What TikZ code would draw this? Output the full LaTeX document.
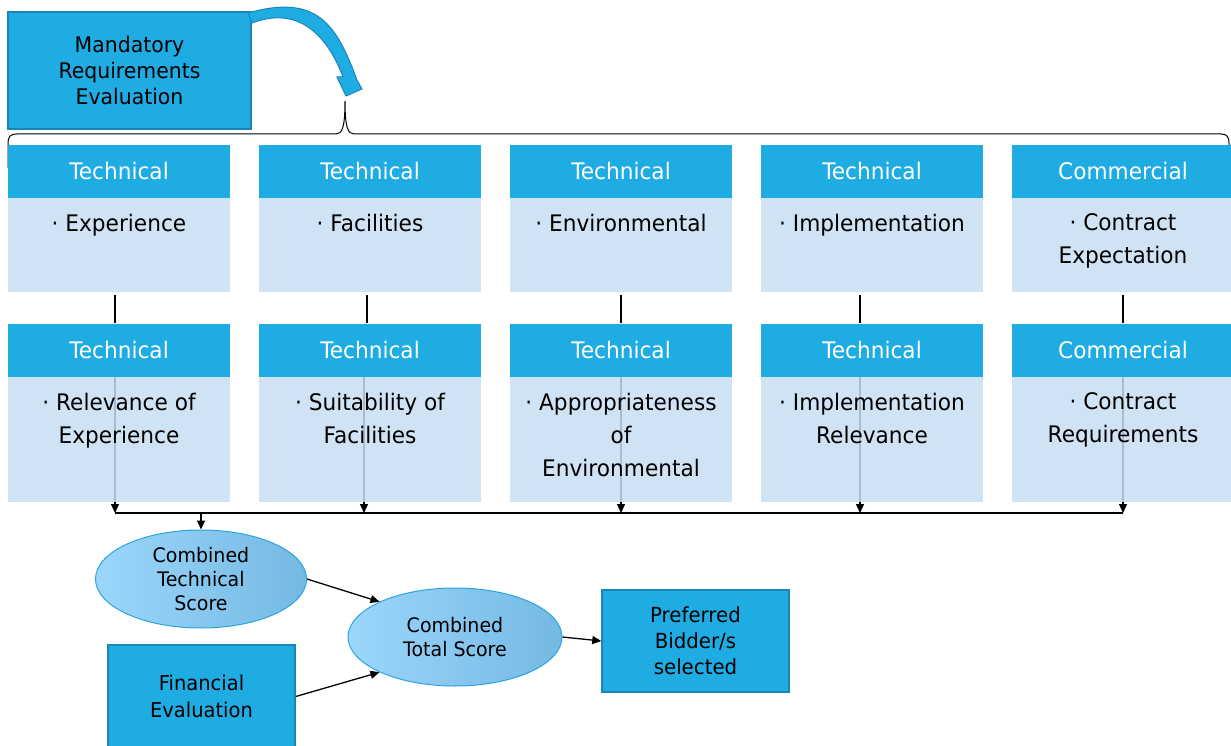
\documentclass[tikz,border=0pt]{standalone}
\usepackage{fontspec}
\setmainfont[FakeStretch=0.95]{DejaVu Sans}
\usetikzlibrary{arrows.meta,shapes.geometric,calc}
\definecolor{cyanbox}{HTML}{1FACE3}
\definecolor{cyanedge}{HTML}{1A86B6}
\definecolor{bodyblue}{HTML}{C8DFF3}
\definecolor{ellL}{HTML}{9CD6FB}
\definecolor{ellR}{HTML}{74B9E3}
\definecolor{elledge}{HTML}{2AA6DE}
\pgfdeclarelayer{back}
\pgfdeclarelayer{bg}
\pgfsetlayers{back,bg,main}
\begin{document}
\begin{tikzpicture}[x=1pt,y=-1pt,
  hdr/.style={rectangle, fill=cyanbox, minimum width=222pt, minimum height=53pt, inner sep=0, text=white, font=\fontsize{22.8}{27}\selectfont},
  bodybox/.style={rectangle, fill=bodyblue, fill opacity=0.85, minimum width=222pt, inner sep=0},
  bodytxt/.style={anchor=north, inner sep=0, align=center, text=black, font=\fontsize{22.8}{33}\selectfont},
  link/.style={draw=black, line width=1.3pt},
  arr/.style={link, -{Triangle[length=9pt,width=8pt]}},
  bluebox/.style={rectangle, fill=cyanbox, draw=cyanedge, line width=1.5pt, inner sep=0, align=center, text=black},
  score/.style={ellipse, left color=ellL, right color=ellR, draw=elledge, line width=1pt, minimum height=98pt, inner sep=0, align=center, font=\fontsize{20}{24}\selectfont},
]
\useasboundingbox (0,0) rectangle (1231,746);
\begin{pgfonlayer}{back}
\fill[white] (0,0) rectangle (1231,746);
\end{pgfonlayer}

% Mandatory requirements box
\node[bluebox, minimum width=243pt, minimum height=117pt, font=\fontsize{21.5}{26}\selectfont] (mre) at (129.5,70.5) {Mandatory\\Requirements\\Evaluation};

% curved block arrow
\filldraw[fill=cyanbox, draw=cyanedge, line width=1pt]
  (248,13) .. controls (318,-7) and (337,26) .. (357,80) -- (362,89) -- (346,96) -- (337,77) -- (343,77)
  .. controls (331,45) and (304.5,3) .. (252,23) -- cycle;

% brace
\coordinate (brL) at (8,168);
\coordinate (brM) at (345,101);
\coordinate (brR) at (1229,168);
\draw[line width=1pt] (brL) -- (8,143) .. controls (8,137) and (10,134) .. (17,134) -- (336,134)
  .. controls (342,134) and (345,128) .. (brM) .. controls (345,128) and (348,134) .. (354,134)
  -- (1221,134) .. controls (1227,134) and (1229,137) .. (1229,143) -- (brR);

% bus
\coordinate (busL) at (115,513);
\coordinate (busR) at (1123,513);

\foreach \i/\cx/\ta/\tb/\tc/\td/\dxA/\dxB in {
  1/119/Technical/{·~Experience}/Technical/{·~Relevance of\\Experience}/-4/-4,
  2/370/Technical/{·~Facilities}/Technical/{·~Suitability of\\Facilities}/-3/-6,
  3/621/Technical/{·~Environmental}/Technical/{·~Appropriateness\\of\\Environmental}/0/0,
  4/872/Technical/{·~Implementation}/Technical/{·~Implementation\\Relevance}/-12/-12,
  5/1123/Commercial/{·~Contract\\Expectation}/Commercial/{·~Contract\\Requirements}/0/0}{
  \node[hdr] (h\i) at (\cx,171.5) {\ta};
  \node[bodybox, minimum height=94pt] (b\i) at (\cx,245) {};
  \node[bodytxt] (tb\i) at ([yshift=-16pt]b\i.north) {\tb};
  \node[hdr] (H\i) at (\cx,350) {\tc};
  \node[bodybox, minimum height=125pt] (B\i) at (\cx,439.5) {};
  \node[bodytxt] (tB\i) at ([yshift=-16pt]B\i.north) {\td};
  \draw[link] ([xshift=\dxA pt, yshift=-3pt]b\i.south) -- ([xshift=\dxA pt]H\i.north);
  \begin{pgfonlayer}{bg}
  \draw[arr] ([xshift=\dxB pt]H\i.south) -- ([xshift=\dxB pt]H\i.south |- busL);
  \end{pgfonlayer}
}
\draw[link] (busL) -- (busR);

% bottom part
\node[score, minimum width=211pt] (e1) at (201,579) {Combined\\Technical\\Score};
\node[score, minimum width=214pt] (e2) at (455,637) {Combined\\Total Score};
\node[bluebox, minimum width=187pt, minimum height=103pt, font=\fontsize{20.5}{27}\selectfont] (fin) at (201.5,696.5) {Financial\\Evaluation};
\node[bluebox, minimum width=187pt, minimum height=102pt, font=\fontsize{20.8}{26}\selectfont] (pref) at (695.5,641) {Preferred\\Bidder/s\\selected};

\draw[arr] (e1.north |- busL) -- (e1.north);
\draw[arr] (e1.east) -- (e2.155);
\draw[arr] (fin.east) -- (e2.205);
\draw[arr] (e2.east) -- (pref.west);
\end{tikzpicture}
\end{document}
